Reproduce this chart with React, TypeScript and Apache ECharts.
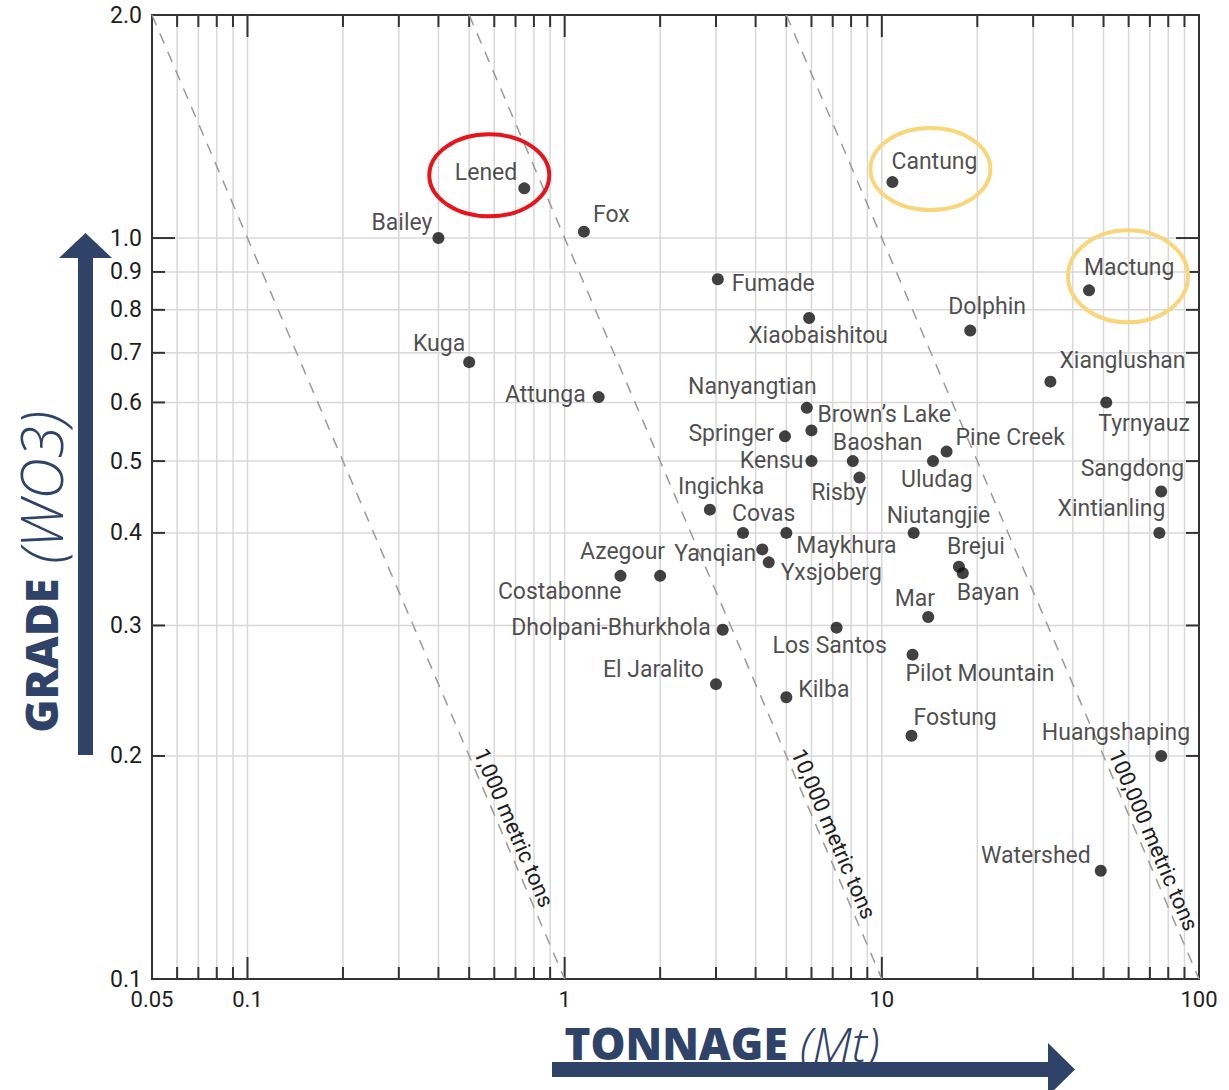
import React, { useEffect, useRef } from "react";
import * as echarts from "echarts";

// ---------- data ----------
const depositNames = [
  "Lened", "Bailey", "Fox", "Cantung", "Mactung", "Dolphin", "Fumade", "Xiaobaishitou",
  "Kuga", "Attunga", "Xianglushan", "Tyrnyauz", "Nanyangtian", "Brown\u2019s Lake", "Springer",
  "Kensu", "Baoshan", "Risby", "Uludag", "Pine Creek", "Ingichka", "Covas", "Maykhura",
  "Niutangjie", "Yanqian", "Yxsjoberg", "Azegour", "Costabonne", "Brejui", "Bayan", "Mar",
  "Dholpani-Bhurkhola", "Los Santos", "Pilot Mountain", "El Jaralito", "Kilba", "Fostung",
  "Huangshaping", "Sangdong", "Xintianling", "Watershed",
];
const tonnageMt = [
  0.746, 0.4, 1.15, 10.8, 45, 19, 3.04, 5.9,
  0.5, 1.28, 34, 51, 5.8, 6.0, 4.95,
  6.0, 8.1, 8.5, 14.5, 16, 2.87, 3.65, 5.0,
  12.6, 4.2, 4.4, 2.0, 1.5, 17.5, 18, 14,
  3.15, 7.2, 12.5, 3.0, 5.0, 12.4,
  76, 76, 75, 49,
];
const gradeWO3 = [
  1.167, 1.0, 1.02, 1.19, 0.85, 0.75, 0.88, 0.78,
  0.68, 0.61, 0.64, 0.6, 0.59, 0.55, 0.54,
  0.5, 0.5, 0.475, 0.5, 0.515, 0.43, 0.4, 0.4,
  0.4, 0.38, 0.365, 0.35, 0.35, 0.36, 0.353, 0.308,
  0.296, 0.298, 0.274, 0.25, 0.24, 0.213,
  0.2, 0.455, 0.4, 0.14,
];

const highlightNames = ["Lened", "Cantung", "Mactung"];

const xTickValues = [
  0.06, 0.07, 0.08, 0.09, 0.1, 0.2, 0.3, 0.4, 0.5, 0.6, 0.7, 0.8, 0.9,
  1, 2, 3, 4, 5, 6, 7, 8, 9, 10, 20, 30, 40, 50, 60, 70, 80, 90,
];
const xMajorValues = [0.1, 1, 10];
const xLabelValues = [0.05, 0.1, 1, 10, 100];
const xLabelTexts = ["0.05", "0.1", "1", "10", "100"];
const yLabelValues = [0.1, 0.2, 0.3, 0.4, 0.5, 0.6, 0.7, 0.8, 0.9, 1.0, 2.0];
const yLabelTexts = ["0.1", "0.2", "0.3", "0.4", "0.5", "0.6", "0.7", "0.8", "0.9", "1.0", "2.0"];
const yMajorValues = [1.0];

const contourLabels = ["1,000 metric tons", "10,000 metric tons", "100,000 metric tons"];
const contourTonnageAtTop = [0.05, 0.5, 5]; // at grade 2.0
const contourTonnageAtBottom = [1, 10, 100]; // at grade 0.1

// ---------- layout / style (not data) ----------
const X_MIN = 0.05, X_MAX = 100, Y_MIN = 0.1, Y_MAX = 2.0;
const LABEL_FONT = "Roboto";
const TEXT_COLOR = "#1e1e1e";
const NAVY = "#2f4368";

const labelPlacement: Record<string, [string, number, number]> = {
  "Lened": ["right", -7, -16],
  "Bailey": ["right", -6, -16],
  "Fox": ["left", 9, -17],
  "Cantung": ["left", -1, -21],
  "Mactung": ["left", -5, -23],
  "Dolphin": ["left", -22, -24],
  "Fumade": ["left", 14, 4],
  "Xiaobaishitou": ["left", -61, 17],
  "Kuga": ["right", -4, -19],
  "Attunga": ["right", -13, -3],
  "Xianglushan": ["left", 9, -21],
  "Tyrnyauz": ["left", -8, 21],
  "Nanyangtian": ["right", 10, -21],
  "Brown\u2019s Lake": ["left", 6, -16],
  "Springer": ["right", -11, -3],
  "Kensu": ["right", -8, -1],
  "Baoshan": ["left", -20, -19],
  "Risby": ["right", 7, 15],
  "Uludag": ["left", -32, 18],
  "Pine Creek": ["left", 9, -14],
  "Ingichka": ["left", -32, -23],
  "Covas": ["left", -11, -19],
  "Maykhura": ["left", 10, 13],
  "Niutangjie": ["left", -27, -17],
  "Yanqian": ["right", -6, 4],
  "Yxsjoberg": ["left", 12, 10],
  "Azegour": ["right", 5, -24],
  "Costabonne": ["right", 1, 16],
  "Brejui": ["left", -12, -20],
  "Bayan": ["left", -6, 19],
  "Mar": ["right", 7, -19],
  "Dholpani-Bhurkhola": ["right", -12, -2],
  "Los Santos": ["left", -64, 18],
  "Pilot Mountain": ["left", -7, 19],
  "El Jaralito": ["right", -12, -15],
  "Kilba": ["left", 12, -8],
  "Fostung": ["left", 2, -18],
  "Huangshaping": ["right", 29, -23],
  "Sangdong": ["right", 23, -23],
  "Xintianling": ["right", 6, -24],
  "Watershed": ["right", -10, -15],
};

const highlightStyle: Record<string, { color: string; dx: number; dy: number; rx: number; ry: number }> = {
  "Lened": { color: "#e8141c", dx: -35, dy: -13, rx: 60, ry: 41 },
  "Cantung": { color: "#f8d679", dx: 38, dy: -13, rx: 60, ry: 41 },
  "Mactung": { color: "#f8d679", dx: 39, dy: -14, rx: 60, ry: 46 },
};

const contourLabelGrade = [0.16, 0.157, 0.154];

const xTitleRich = {
  b: { fontFamily: "Open Sans", fontWeight: 800, fontSize: 44, lineHeight: 32, fill: NAVY },
  i: { fontFamily: "Open Sans", fontStyle: "italic", fontWeight: 300, fontSize: 48, lineHeight: 32, fill: NAVY },
};
const yTitleRich = {
  b: { fontFamily: "Open Sans", fontWeight: 800, fontSize: 45, lineHeight: 34, fill: NAVY },
  i: { fontFamily: "Open Sans", fontStyle: "italic", fontWeight: 300, fontSize: 58, lineHeight: 34, fill: NAVY },
};

export default function App() {
  const ref = useRef<HTMLDivElement>(null);

  useEffect(() => {
    const el = ref.current;
    if (!el) return;
    const chart = echarts.init(el, undefined, { renderer: "svg" });

    const scatterData = depositNames.map((n, i) => {
      const p = labelPlacement[n] || ["left", 8, -14];
      return {
        name: n,
        value: [tonnageMt[i], gradeWO3[i]],
        label: { align: p[0], offset: [p[1], p[2]] },
      };
    });

    const lineSeries = contourLabels.map((name, i) => ({
      type: "line",
      name,
      z: 2,
      silent: true,
      symbol: "none",
      data: [
        [contourTonnageAtTop[i], Y_MAX],
        [contourTonnageAtBottom[i], Y_MIN],
      ],
      lineStyle: { color: "#9a9a9a", width: 1.5, type: [11, 9] },
    }));

    const option: any = {
      animation: false,
      grid: {
        left: 152,
        top: 15,
        width: 1047,
        height: 964,
        show: true,
        borderColor: "#333",
        borderWidth: 2,
        backgroundColor: "transparent",
      },
      xAxis: {
        type: "log",
        logBase: 10,
        min: X_MIN,
        max: X_MAX,
        axisLine: { show: false },
        axisTick: { show: false },
        axisLabel: { show: false },
        splitLine: { show: false },
      },
      yAxis: {
        type: "log",
        logBase: 10,
        min: Y_MIN,
        max: Y_MAX,
        axisLine: { show: false },
        axisTick: { show: false },
        axisLabel: { show: false },
        splitLine: { show: false },
      },
      series: [
        // vertical grid lines + top/bottom ticks
        {
          type: "custom",
          z: 1,
          silent: true,
          data: xTickValues.map((v) => [v, Y_MIN]),
          renderItem: (params: any, api: any) => {
            const v = api.value(0);
            const pb = api.coord([v, Y_MIN]);
            const pt = api.coord([v, Y_MAX]);
            const len = xMajorValues.indexOf(v) >= 0 ? 22 : 12;
            return {
              type: "group",
              children: [
                { type: "line", shape: { x1: pb[0], y1: pt[1], x2: pb[0], y2: pb[1] }, style: { stroke: "#d8d8d8", lineWidth: 1.5 } },
                { type: "line", shape: { x1: pb[0], y1: pb[1], x2: pb[0], y2: pb[1] - len }, style: { stroke: "#333", lineWidth: 2 } },
                { type: "line", shape: { x1: pb[0], y1: pt[1], x2: pb[0], y2: pt[1] + len }, style: { stroke: "#333", lineWidth: 2 } },
              ],
            };
          },
        },
        // x labels
        {
          type: "custom",
          z: 1,
          silent: true,
          data: xLabelValues.map((v) => [v, Y_MIN]),
          renderItem: (params: any, api: any) => {
            const p = api.coord([api.value(0), Y_MIN]);
            return {
              type: "text",
              x: p[0],
              y: p[1] + 20,
              style: {
                text: xLabelTexts[params.dataIndex],
                align: "center",
                verticalAlign: "middle",
                fontFamily: LABEL_FONT,
                fontSize: 22,
                lineHeight: 22,
                fill: TEXT_COLOR,
              },
            };
          },
        },
        // horizontal grid lines + ticks + y labels
        {
          type: "custom",
          z: 1,
          silent: true,
          data: yLabelValues.map((v) => [X_MIN, v]),
          renderItem: (params: any, api: any) => {
            const v = api.value(1);
            const pl = api.coord([X_MIN, v]);
            const pr = api.coord([X_MAX, v]);
            const children: any[] = [];
            if (v > Y_MIN && v < Y_MAX) {
              const len = yMajorValues.indexOf(v) >= 0 ? 23 : 13;
              children.push(
                { type: "line", shape: { x1: pl[0], y1: pl[1], x2: pr[0], y2: pl[1] }, style: { stroke: "#d8d8d8", lineWidth: 1.5 } },
                { type: "line", shape: { x1: pl[0], y1: pl[1], x2: pl[0] + len, y2: pl[1] }, style: { stroke: "#333", lineWidth: 2 } },
                { type: "line", shape: { x1: pr[0], y1: pl[1], x2: pr[0] - len, y2: pl[1] }, style: { stroke: "#333", lineWidth: 2 } }
              );
            }
            children.push({
              type: "text",
              x: pl[0] - 10,
              y: pl[1],
              style: {
                text: yLabelTexts[params.dataIndex],
                align: "right",
                verticalAlign: "middle",
                fontFamily: LABEL_FONT,
                fontSize: 23,
                fill: TEXT_COLOR,
              },
            });
            return { type: "group", children };
          },
        },
        ...lineSeries,
        // contour labels
        {
          type: "custom",
          z: 3,
          silent: true,
          data: contourLabels.map((_, i) => [
            (contourTonnageAtBottom[i] * Y_MIN) / contourLabelGrade[i],
            contourLabelGrade[i],
          ]),
          renderItem: (params: any, api: any) => {
            const i = params.dataIndex;
            const p = api.coord([api.value(0), api.value(1)]);
            const a = api.coord([contourTonnageAtTop[i], Y_MAX]);
            const b = api.coord([contourTonnageAtBottom[i], Y_MIN]);
            const ang = Math.atan2(b[1] - a[1], b[0] - a[0]);
            return {
              type: "text",
              x: p[0] + 14,
              y: p[1],
              rotation: -ang,
              style: {
                text: contourLabels[i],
                align: "center",
                verticalAlign: "middle",
                fontFamily: LABEL_FONT,
                fontSize: 22,
                fill: TEXT_COLOR,
              },
            };
          },
        },
        // deposits
        {
          type: "scatter",
          z: 4,
          silent: true,
          symbol: "circle",
          symbolSize: 12,
          itemStyle: { color: "#111" },
          label: {
            show: true,
            position: "inside",
            formatter: "{b}",
            color: TEXT_COLOR,
            fontFamily: LABEL_FONT,
            fontSize: 23,
            verticalAlign: "middle",
          },
          data: scatterData,
        },
        // highlight ellipses
        {
          type: "custom",
          z: 5,
          silent: true,
          data: highlightNames.map((n) => {
            const i = depositNames.indexOf(n);
            return [tonnageMt[i], gradeWO3[i]];
          }),
          renderItem: (params: any, api: any) => {
            const h = highlightStyle[highlightNames[params.dataIndex]];
            const p = api.coord([api.value(0), api.value(1)]);
            return {
              type: "ellipse",
              shape: { cx: p[0] + h.dx, cy: p[1] + h.dy, rx: h.rx, ry: h.ry },
              style: { fill: "none", stroke: h.color, lineWidth: 4 },
            };
          },
        },
      ],
      graphic: [
        {
          type: "polygon",
          shape: {
            points: [
              [78, 755], [78, 258], [59, 258], [85.5, 233], [112, 258], [93, 258], [93, 755],
            ],
          },
          style: { fill: NAVY },
        },
        {
          type: "polygon",
          shape: {
            points: [
              [552, 1062], [1048, 1062], [1048, 1043], [1075, 1069.5], [1048, 1096], [1048, 1077], [552, 1077],
            ],
          },
          style: { fill: NAVY },
        },
        {
          type: "text",
          x: 40,
          y: 572,
          rotation: Math.PI / 2,
          style: {
            text: "{b|GRADE}{i| (WO3)}",
            align: "center",
            verticalAlign: "middle",
            rich: yTitleRich,
          },
        },
        {
          type: "text",
          x: 722,
          y: 1043,
          style: {
            text: "{b|TONNAGE}{i| (Mt)}",
            align: "center",
            verticalAlign: "middle",
            rich: xTitleRich,
          },
        },
      ],
    };

    chart.setOption(option);
    return () => chart.dispose();
  }, []);

  return (
    <div
      ref={ref}
      style={{ position: "absolute", left: 0, top: 0, width: 1229, height: 1090, background: "#fff" }}
    />
  );
}
